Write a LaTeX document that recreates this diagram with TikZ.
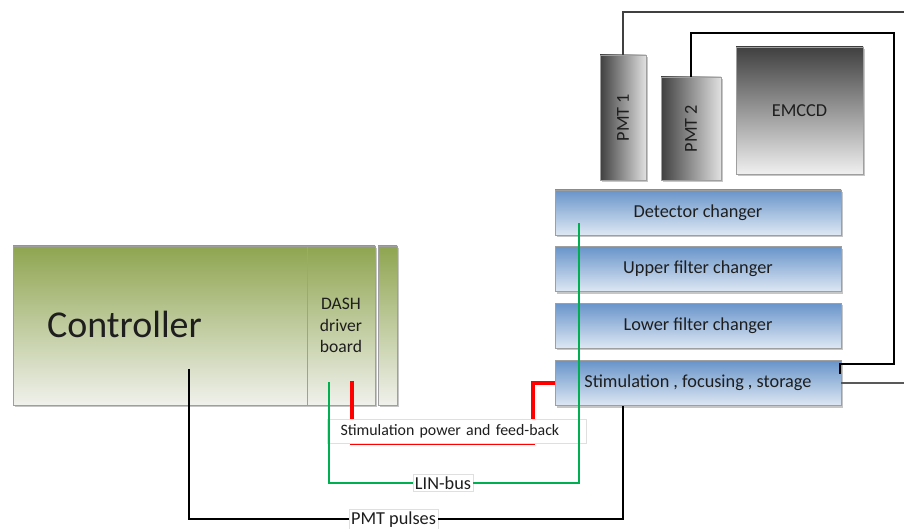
\documentclass[tikz,border=0pt]{standalone}
\usepackage{fontspec}
\setmainfont{Carlito}
\usetikzlibrary{calc,positioning,shadows}
\definecolor{ctrltop}{RGB}{143,165,80}
\definecolor{ctrlbot}{RGB}{240,241,236}
\definecolor{stagetop}{RGB}{104,148,202}
\definecolor{stagebot}{RGB}{222,232,243}
\definecolor{linegreen}{RGB}{0,176,80}
\definecolor{ink}{RGB}{30,30,30}
\tikzset{
  panel/.style = {draw=gray!75, text=ink, inner sep=0pt,
                  drop shadow={shadow xshift=1.5pt, shadow yshift=-1.5pt, fill=gray, opacity=.45}},
  board/.style = {panel, top color=ctrltop, bottom color=ctrlbot, minimum height=3.975cm},
  stage/.style = {panel, top color=stagetop, bottom color=stagebot, minimum width=7.15cm,
                  minimum height=1.125cm, font=\fontsize{13}{15}\selectfont},
  tube/.style  = {panel, left color=black!75, right color=black!12, font=\fontsize{13}{15}\selectfont},
  wire/.style  = {line width=1.4pt},
  tag/.style   = {draw=gray!25, fill=white, text=ink, inner sep=1.5pt, font=\fontsize{13}{15}\selectfont},
}
\begin{document}
\begin{tikzpicture}[x=1cm,y=1cm]
  \useasboundingbox (0,0) rectangle (22.6,13.225);
  % controller rack
  \node[board, minimum width=9.05cm] (ctrl) at (4.85,5.0875) {};
  \node[board, minimum width=0.475cm] (slot) at (9.6875,5.0875) {};
  \node[draw=gray!75, text=ink, inner sep=0pt, minimum width=1.7cm, minimum height=3.975cm,
        align=center, font=\fontsize{12.5}{15.5}\selectfont] (dash) at (8.525,5.0875) {DASH\\driver\\board};
  \node[font=\fontsize{27}{30}\selectfont, text=ink, anchor=base] (ctrllabel) at (3.1125,4.775) {Controller};
  % optical stages
  \node[stage] (det) at (17.45,7.9125) {Detector changer};
  \node[stage, below=0.275cm of det] (upper) {Upper filter changer};
  \node[stage, below=0.275cm of upper] (lower) {Lower filter changer};
  \node[stage, below=0.3cm of lower] (stim) {Stimulation , focusing , storage};
  % detectors
  \node[tube, minimum width=1.15cm, minimum height=3.125cm] (pmt1) at (15.575,10.2875) {\rotatebox{90}{PMT 1}};
  \node[tube, minimum width=1.5cm, minimum height=2.575cm] (pmt2) at (17.275,10.0125) {\rotatebox{90}{PMT 2}};
  \node[panel, top color=black!75, bottom color=black!6, minimum size=3.175cm,
        font=\fontsize{13}{15}\selectfont] (emccd) at (19.9875,10.4625) {EMCCD};
  % PMT cables
  \coordinate (pmtout) at (22.6,12.925);
  \coordinate (loop) at (22.35,12.4);
  \coordinate (stimport) at ($(stim.east)+(-0.03,0.225)$);
  \draw[wire, black!75] (pmt1.north) |- (pmtout);
  \draw[wire, black] (pmt2.north) |- (loop) |- ($(stimport)+(0,0.25)$) -- (stimport);
  \draw[wire, black!65] (stim.east) -- (stim.east -| pmtout);
  % stimulation power
  \coordinate (pwrsrc) at (8.8,3.7);
  \coordinate (pwrbend) at (13.325,2.15);
  \draw[line width=2.4pt, red] (pwrsrc) |- (pwrbend) |- (stim.west);
  \node[tag, font=\fontsize{11.3}{13}\selectfont, minimum width=6.475cm, minimum height=0.6cm,
        text width=5.8cm, align=left] (pwrtag) at (11.4125,2.45) {Stimulation power and feed-back};
  % LIN-bus
  \coordinate (linsrc) at (8.225,3.675);
  \coordinate (detport) at ($(det.south west)+(0.6,0.3)$);
  \node[tag] (linbus) at (11.075,1.15) {LIN-bus};
  \draw[wire, linegreen] (detport) |- (linbus.east);
  \draw[wire, linegreen] (linbus.west) -| (linsrc);
  % PMT pulses
  \coordinate (pulsesrc) at (4.725,4.0);
  \node[tag] (pulses) at (9.8375,0.24) {PMT pulses};
  \draw[wire] (pulsesrc) |- (pulses.west);
  \draw[wire] (pulses.east) -| (pmt1.center |- stim.south);
\end{tikzpicture}
\end{document}
